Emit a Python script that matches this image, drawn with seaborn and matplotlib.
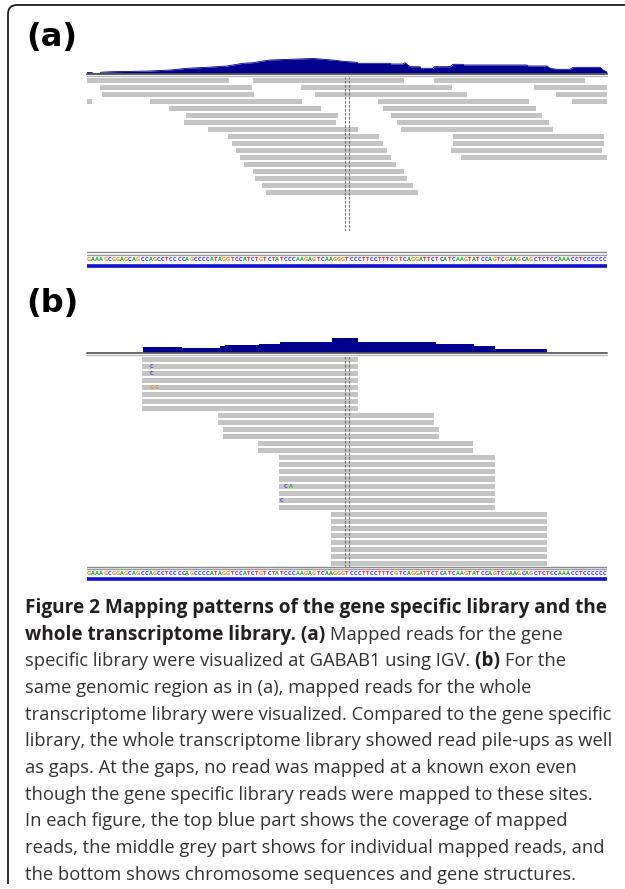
import matplotlib
matplotlib.use("Agg")
import matplotlib.pyplot as plt
import seaborn as sns
import numpy as np
import pandas as pd
from matplotlib.patches import FancyBboxPatch

sns.set_theme(style="white")
plt.rcParams['font.family'] = ['Open Sans', 'DejaVu Sans']

W, H = 625, 889

# ---------------- data ----------------
# genomic window shown (screen-position units)
view_start, view_end = 87, 607
splice_marks = [345, 349]

# reference sequence in the window
ref_seq = ("GAAAGCGGAGCAGCCAGCCTCCCCAGCCCCATAGGTCCATCTGTCTATCC"
           "CAAGAGTCAAGGGTCCCTTCCTTTCGTCAGGATTCTCATCAAGTATCCAG"
           "TCGAAGCAGCTCTCCAAACCTCCCCCC")
base_colors = {"A": "#1fa51f", "C": "#2b2bf0", "G": "#d98a1e", "T": "#e8241f"}

# Panel (a): gene specific library
cov_a_pos = [87, 92, 93, 100, 101, 113, 150, 170, 187, 207, 227, 233, 243, 253, 263, 270,
             313, 320, 337, 345, 357, 358, 390, 391, 403, 405, 410, 420, 421, 433, 434,
             450, 453, 463, 464, 527, 528, 547, 550, 557, 570, 573, 600, 603, 607]
cov_a_depth = [1.5, 1.5, 0.6, 0.6, 1.8, 2.3, 3.0, 4.0, 5.7, 6.7, 8.0, 9.0, 10.7, 11.3, 13.0, 14.0,
               15.5, 15.0, 13.5, 12.5, 11.7, 10.7, 10.7, 10.0, 10.0, 11.3, 7.3, 7.3, 5.7, 5.7, 7.3,
               7.3, 9.7, 9.7, 9.0, 9.0, 8.0, 8.0, 5.7, 4.7, 4.7, 6.7, 6.7, 4.0, 2.0]

reads_a_row = [0, 0, 0, 1, 1, 1, 2, 2, 2, 3, 3, 3, 3, 4, 4, 5, 5, 6, 6, 7, 7,
               8, 8, 9, 9, 10, 10, 11, 11, 12, 13, 14, 15, 16]
reads_a_start = [87, 253, 434, 100, 301, 534, 102, 315, 556, 87, 150, 378, 572, 169, 383,
                 186, 391, 184, 397, 208, 401, 228, 453, 232, 453, 236, 451, 240, 461,
                 244, 253, 255, 262, 266]
reads_a_end = [229, 404, 585, 252, 452, 607, 254, 467, 607, 92, 302, 529, 607, 321, 536,
               338, 542, 336, 549, 358, 553, 379, 604, 383, 604, 387, 602, 391, 607,
               396, 404, 407, 413, 418]

# Panel (b): whole transcriptome library
cov_b_edges = [143, 182, 220, 225, 259, 280, 332, 358, 436, 474, 495, 547]
cov_b_depth = [5.7, 4.7, 7.0, 8.0, 8.7, 11.3, 14.7, 10.7, 8.7, 7.3, 4.0]

reads_b_row = list(range(30))
reads_b_start = [142] * 8 + [218, 218, 223, 223, 258, 258] + [279] * 8 + [331] * 8
reads_b_end = [358] * 8 + [434, 434, 439, 439, 473, 473] + [495] * 8 + [547] * 8

mism_b_row = [1, 2, 4, 4, 18, 18, 20]
mism_b_pos = [152, 152, 152, 157, 286, 291, 282]
mism_b_base = ["C", "C", "G", "G", "C", "A", "C"]

caption_lines = [
    [("Figure 2 Mapping patterns of the gene specific library and the", True)],
    [("whole transcriptome library. (a) ", True), ("Mapped reads for the gene", False)],
    [("specific library were visualized at GABAB1 using IGV. ", False), ("(b) ", True), ("For the", False)],
    [("same genomic region as in (a), mapped reads for the whole", False)],
    [("transcriptome library were visualized. Compared to the gene specific", False)],
    [("library, the whole transcriptome library showed read pile-ups as well", False)],
    [("as gaps. At the gaps, no read was mapped at a known exon even", False)],
    [("though the gene specific library reads were mapped to these sites.", False)],
    [("In each figure, the top blue part shows the coverage of mapped", False)],
    [("reads, the middle grey part shows for individual mapped reads, and", False)],
    [("the bottom shows chromosome sequences and gene structures.", False)],
]

# ---------------- styles ----------------
COV_COLOR = "#00008f"
READ_COLOR = "#c4c4c4"
TEXT_COLOR = "#231f20"

fig = plt.figure(figsize=(W / 100, H / 100), dpi=100)
fig.patch.set_facecolor("white")


def px_axes(x0, y0, x1, y1, **kw):
    ax = fig.add_axes([x0 / W, 1 - y1 / H, (x1 - x0) / W, (y1 - y0) / H], **kw)
    ax.set_axis_off()
    return ax


def coverage_panel(y_top, y_base, kind):
    ax = px_axes(view_start, y_top, view_end, y_base)
    ax.set_xlim(view_start, view_end)
    ax.set_ylim(0, y_base - y_top)
    if kind == "a":
        df = pd.DataFrame({"pos": cov_a_pos, "depth": cov_a_depth})
        ax.fill_between(df["pos"], 0, df["depth"], color=COV_COLOR, lw=0)
        sns.lineplot(data=df, x="pos", y="depth", ax=ax, color=COV_COLOR, lw=0.6)
    else:
        ax.stairs(cov_b_depth, cov_b_edges, fill=True, color=COV_COLOR, lw=0)
    ax.set_axis_off()
    # track separator
    ax.axhline(0, color="#5a5a5a", lw=1.3, clip_on=False)
    ax.axhline(-1.6, color="#b5b5b5", lw=0.9, clip_on=False)
    return ax


def reads_panel(y_top, n_rows, spacing, rows, starts, ends):
    ax = px_axes(view_start, y_top, view_end, y_top + n_rows * spacing)
    df = pd.DataFrame({"row": rows, "start": starts, "end": ends})
    ax.barh(df["row"], df["end"] - df["start"], left=df["start"], height=0.72,
            color=READ_COLOR, edgecolor="none")
    ax.set_xlim(view_start, view_end)
    ax.set_ylim(n_rows - 0.5, -0.5)
    for xm in splice_marks:
        ax.axvline(xm, color="#6e6e6e", lw=0.8, ls=(0, (2.2, 1.4)))
    ax.set_axis_off()
    return ax


def sequence_panel(y_top, y_bot):
    ax = px_axes(view_start, y_top, view_end, y_bot)
    n = len(ref_seq)
    ax.set_xlim(0, n)
    ax.set_ylim(1, 0)
    ax.axhline(0.08, color="#8a8a8a", lw=1.0)
    ax.axhline(0.22, color="#9a9a9a", lw=1.0)
    for i, b in enumerate(ref_seq):
        ax.text(i + 0.5, 0.5, b, color=base_colors[b], fontsize=3.6,
                ha="center", va="center", family="DejaVu Sans", weight="bold")
    ax.axhline(0.86, color="#1010d0", lw=2.6)
    ax.set_axis_off()
    return ax


# ---- panel (a)
fig.text(26 / W, 1 - 46 / H, "(a)", fontsize=23, weight="bold",
         family="DejaVu Sans", color="black", va="baseline")
coverage_panel(54, 74, "a")
reads_panel(77.2, 22, 7.0, reads_a_row, reads_a_start, reads_a_end)
sequence_panel(251, 268)

# ---- panel (b)
fig.text(26 / W, 1 - 312 / H, "(b)", fontsize=23, weight="bold",
         family="DejaVu Sans", color="black", va="baseline")
coverage_panel(333, 353, "b")
axb = reads_panel(355.8, 30, 7.04, reads_b_row, reads_b_start, reads_b_end)
for r, p, b in zip(mism_b_row, mism_b_pos, mism_b_base):
    axb.text(p, r, b, color=base_colors[b], fontsize=3.6, ha="center", va="center",
             family="DejaVu Sans", weight="bold", alpha=0.8)
sequence_panel(566, 581)

# ---- frame
ov = fig.add_axes([0, 1 - 884 / H, 1, 884 / H])
ov.set_xlim(0, W)
ov.set_ylim(884, 0)
ov.set_axis_off()
ov.patch.set_alpha(0)
frame = FancyBboxPatch((8, 5), 800, 1200, boxstyle="round,pad=0,rounding_size=9",
                       fc="none", ec="#1e1e1e", lw=1.3, clip_on=True)
ov.add_patch(frame)

# ---- caption
renderer = fig.canvas.get_renderer()


def seg_width(txt, bold, fs):
    t1 = fig.text(0, 0, txt + "x", fontsize=fs, weight="bold" if bold else "normal")
    t2 = fig.text(0, 0, "x", fontsize=fs, weight="bold" if bold else "normal")
    w = t1.get_window_extent(renderer).width - t2.get_window_extent(renderer).width
    t1.remove()
    t2.remove()
    return w


fs_reg = 10 * 586 / seg_width(caption_lines[5][0][0], False, 10)
fs_bold = 10 * 585 / seg_width(caption_lines[0][0][0], True, 10)

base0, step = 613.0, 26.66
for k, line in enumerate(caption_lines):
    x = 25.0
    yb = base0 + k * step
    for txt, bold in line:
        fs = fs_bold if bold else fs_reg
        fig.text(x / W, 1 - yb / H, txt, fontsize=fs,
                 weight="bold" if bold else "normal",
                 color=TEXT_COLOR if bold else "#333333", va="baseline", ha="left")
        x += seg_width(txt, bold, fs)

fig.savefig("out.png", dpi=100, facecolor="white")
